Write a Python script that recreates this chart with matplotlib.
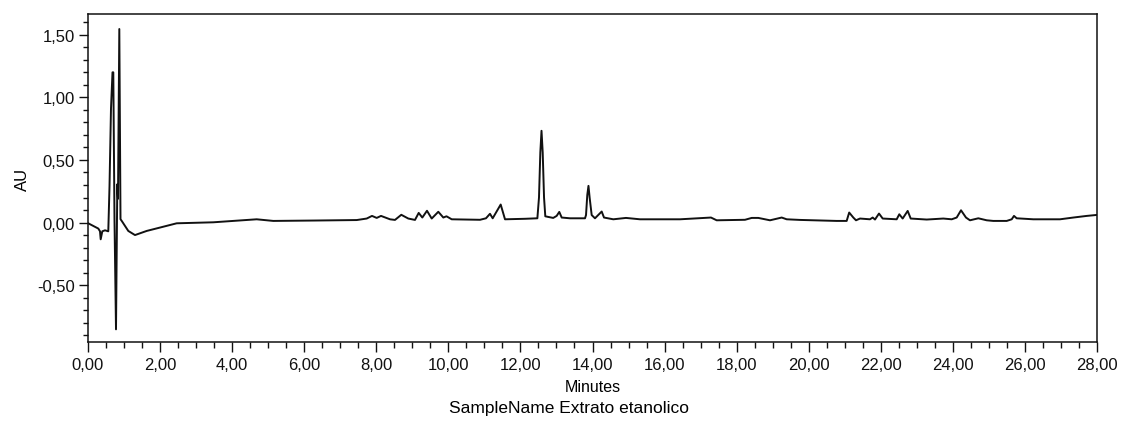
import numpy as np
import matplotlib
matplotlib.use("Agg")
import matplotlib.pyplot as plt
from matplotlib.ticker import MultipleLocator, FixedLocator, FixedFormatter

# retention time (min) and absorbance (AU) of the ethanolic extract trace
minutes = [
    0.000, 0.286, 0.333, 0.352, 0.397, 0.472, 0.563, 0.597, 0.638, 0.680,
    0.702, 0.735, 0.777, 0.813, 0.832, 0.869, 0.902, 0.943, 1.118, 1.304,
    1.629, 1.998, 2.461, 3.477, 4.681, 5.142, 6.244, 7.457, 7.734, 7.881,
    8.011, 8.131, 8.381, 8.519, 8.694, 8.888, 9.074, 9.177, 9.277, 9.407,
    9.538, 9.721, 9.860, 9.948, 10.093, 10.878, 11.044, 11.155, 11.230, 11.452,
    11.572, 12.127, 12.470, 12.515, 12.552, 12.585, 12.618, 12.655, 12.690, 12.770,
    12.910, 13.005, 13.078, 13.145, 13.375, 13.792, 13.820, 13.855, 13.888, 13.920,
    13.977, 14.069, 14.255, 14.319, 14.577, 14.929, 15.318, 16.428, 17.288, 17.446,
    18.231, 18.418, 18.601, 18.925, 19.250, 19.389, 19.758, 20.776, 21.053, 21.123,
    21.237, 21.312, 21.423, 21.700, 21.775, 21.839, 21.950, 22.053, 22.441, 22.513,
    22.607, 22.746, 22.830, 23.274, 23.734, 23.968, 24.106, 24.226, 24.364, 24.475,
    24.706, 24.939, 25.122, 25.494, 25.633, 25.696, 25.771, 26.232, 26.973, 27.342,
    27.714, 28.000,
]
au = [
    -0.005, -0.048, -0.070, -0.134, -0.070, -0.062, -0.070, 0.290, 0.910, 1.200,
    1.200, 0.030, -0.853, 0.306, 0.190, 1.546, 0.027, 0.010, -0.067, -0.100,
    -0.067, -0.040, -0.006, 0.002, 0.026, 0.013, 0.016, 0.020, 0.032, 0.053,
    0.037, 0.053, 0.026, 0.021, 0.062, 0.032, 0.021, 0.077, 0.040, 0.094,
    0.032, 0.086, 0.040, 0.050, 0.026, 0.022, 0.034, 0.070, 0.034, 0.144,
    0.026, 0.030, 0.034, 0.200, 0.560, 0.733, 0.560, 0.200, 0.050, 0.045,
    0.037, 0.053, 0.085, 0.040, 0.034, 0.034, 0.060, 0.220, 0.293, 0.200,
    0.060, 0.034, 0.088, 0.040, 0.026, 0.037, 0.026, 0.026, 0.040, 0.018,
    0.022, 0.037, 0.037, 0.018, 0.040, 0.026, 0.021, 0.013, 0.013, 0.080,
    0.040, 0.018, 0.032, 0.026, 0.040, 0.024, 0.072, 0.032, 0.026, 0.066,
    0.032, 0.093, 0.032, 0.024, 0.032, 0.026, 0.040, 0.098, 0.040, 0.018,
    0.034, 0.018, 0.013, 0.013, 0.026, 0.053, 0.034, 0.026, 0.026, 0.040,
    0.053, 0.061,
]

x_ticks = [0, 2, 4, 6, 8, 10, 12, 14, 16, 18, 20, 22, 24, 26, 28]
x_labels = ["0,00", "2,00", "4,00", "6,00", "8,00", "10,00", "12,00", "14,00",
            "16,00", "18,00", "20,00", "22,00", "24,00", "26,00", "28,00"]
y_ticks = [-0.5, 0.0, 0.5, 1.0, 1.5]
y_labels = ["-0,50", "0,00", "0,50", "1,00", "1,50"]

plt.rcParams['font.family'] = ['Liberation Sans', 'DejaVu Sans']

fig = plt.figure(figsize=(11.21, 4.27), dpi=100)
ax = fig.add_axes([0.0785, 0.1956, 0.9001, 0.7693])

ax.plot(minutes, au, color='#111111', linewidth=1.4)

ax.set_xlim(0, 28)
ax.set_ylim(-0.958, 1.666)

ax.xaxis.set_major_locator(FixedLocator(x_ticks))
ax.xaxis.set_major_formatter(FixedFormatter(x_labels))
ax.xaxis.set_minor_locator(MultipleLocator(0.5))
ax.yaxis.set_major_locator(FixedLocator(y_ticks))
ax.yaxis.set_major_formatter(FixedFormatter(y_labels))
ax.yaxis.set_minor_locator(MultipleLocator(0.1))

ax.tick_params(axis='x', which='major', direction='out', length=7.2, width=1.0,
               pad=3, labelsize=12, colors='#111111')
ax.tick_params(axis='x', which='minor', direction='out', length=4.3, width=1.0,
               colors='#111111')
ax.tick_params(axis='y', which='major', direction='out', length=6.5, width=1.0,
               pad=3, labelsize=12, colors='#111111')
ax.tick_params(axis='y', which='minor', direction='out', length=3.6, width=1.0,
               colors='#111111')

for s in ax.spines.values():
    s.set_linewidth(1.1)
    s.set_color('#111111')

ax.set_ylabel("AU", fontsize=12, labelpad=5)
ax.set_xlabel("Minutes", fontsize=11.5, labelpad=5)

fig.text(569 / 1121, 1 - 409 / 427, "SampleName Extrato etanolico",
         fontsize=12.5, ha='center', va='center')

fig.savefig("out.png", dpi=100)
